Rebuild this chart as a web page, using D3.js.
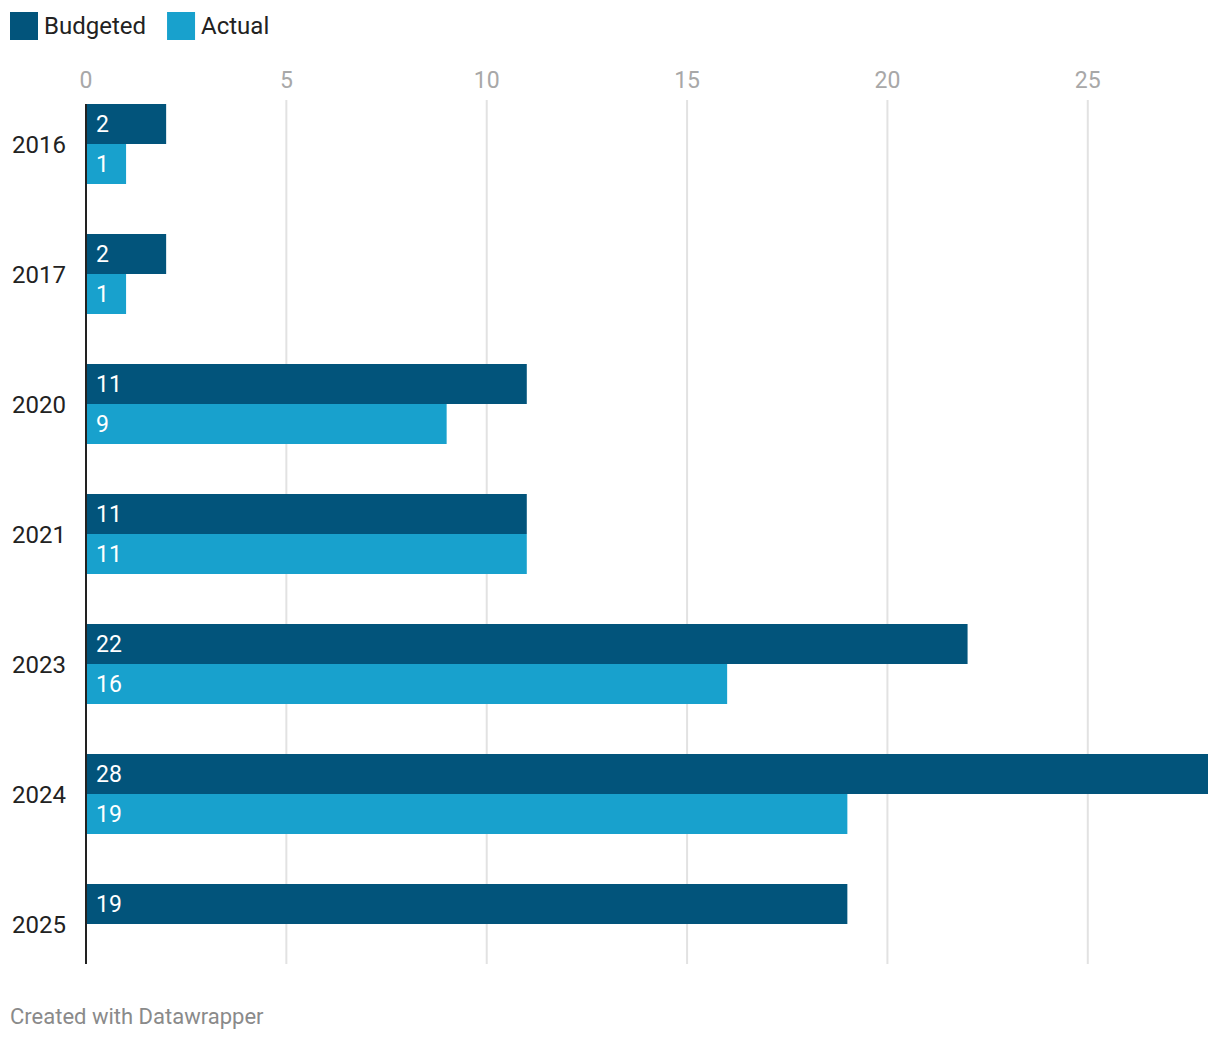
<!DOCTYPE html>
<html><head><meta charset="utf-8">
<script src="https://cdn.jsdelivr.net/npm/d3@7"></script>
<style>body{margin:0;background:#fff;font-family:Roboto,sans-serif;}</style>
</head><body>
<svg id="c" width="1220" height="1042"></svg>
<script>
const years = ["2016","2017","2020","2021","2023","2024","2025"];
const budgeted = [2,2,11,11,22,28,19];
const actual = [1,1,9,11,16,19,null];
const seriesNames = ["Budgeted","Actual"];
const seriesColors = ["#02547b","#18a1cd"];
const ticks = [0,5,10,15,20,25];

const svg = d3.select("#c");
const x = d3.scaleLinear().domain([0,28]).range([86,1208]);
const y = d3.scaleBand().domain(years).range([104,1014]).paddingInner(0).paddingOuter(0);
const sub = d3.scaleBand().domain([0,1]).range([0,80]);

// legend
const lg = svg.append("g");
let lx = 10;
seriesNames.forEach((n,i)=>{
  lg.append("rect").attr("x",lx).attr("y",12).attr("width",28).attr("height",28).attr("fill",seriesColors[i]);
  const t = lg.append("text").attr("x",lx+34).attr("y",34).attr("font-size",24).attr("fill","#222").text(n);
  lx += 34 + t.node().getComputedTextLength() + 21;
});

// grid + ticks
const gridG = svg.append("g");
ticks.forEach(t=>{
  if(t>0) gridG.append("line").attr("x1",x(t)).attr("x2",x(t)).attr("y1",100).attr("y2",964).attr("stroke","#e2e2e2").attr("stroke-width",2);
  gridG.append("text").attr("x",x(t)).attr("y",88).attr("text-anchor","middle").attr("font-size",23).attr("fill","#a8a8a8").text(t);
});

// bars
const data = [budgeted, actual];
years.forEach((yr,i)=>{
  data.forEach((arr,s)=>{
    const v = arr[i];
    if(v==null) return;
    const y0 = y(yr)+sub(s);
    svg.append("rect").attr("x",x(0)).attr("y",y0).attr("width",x(v)-x(0)).attr("height",sub.bandwidth()).attr("fill",seriesColors[s]);
    svg.append("text").attr("x",x(0)+10).attr("y",y0+sub.bandwidth()/2).attr("dy","0.36em").attr("font-size",23).attr("fill","#fff").text(v);
  });
  svg.append("text").attr("x",66).attr("y",y(yr)+40).attr("dy","0.36em").attr("text-anchor","end").attr("font-size",24).attr("fill","#222").text(yr);
});

// axis line
svg.append("line").attr("x1",x(0)).attr("x2",x(0)).attr("y1",104).attr("y2",964).attr("stroke","#222").attr("stroke-width",2);

svg.append("text").attr("x",10).attr("y",1024).attr("font-size",22).attr("fill","#8a8a8a").text("Created with Datawrapper");
</script>
</body></html>
